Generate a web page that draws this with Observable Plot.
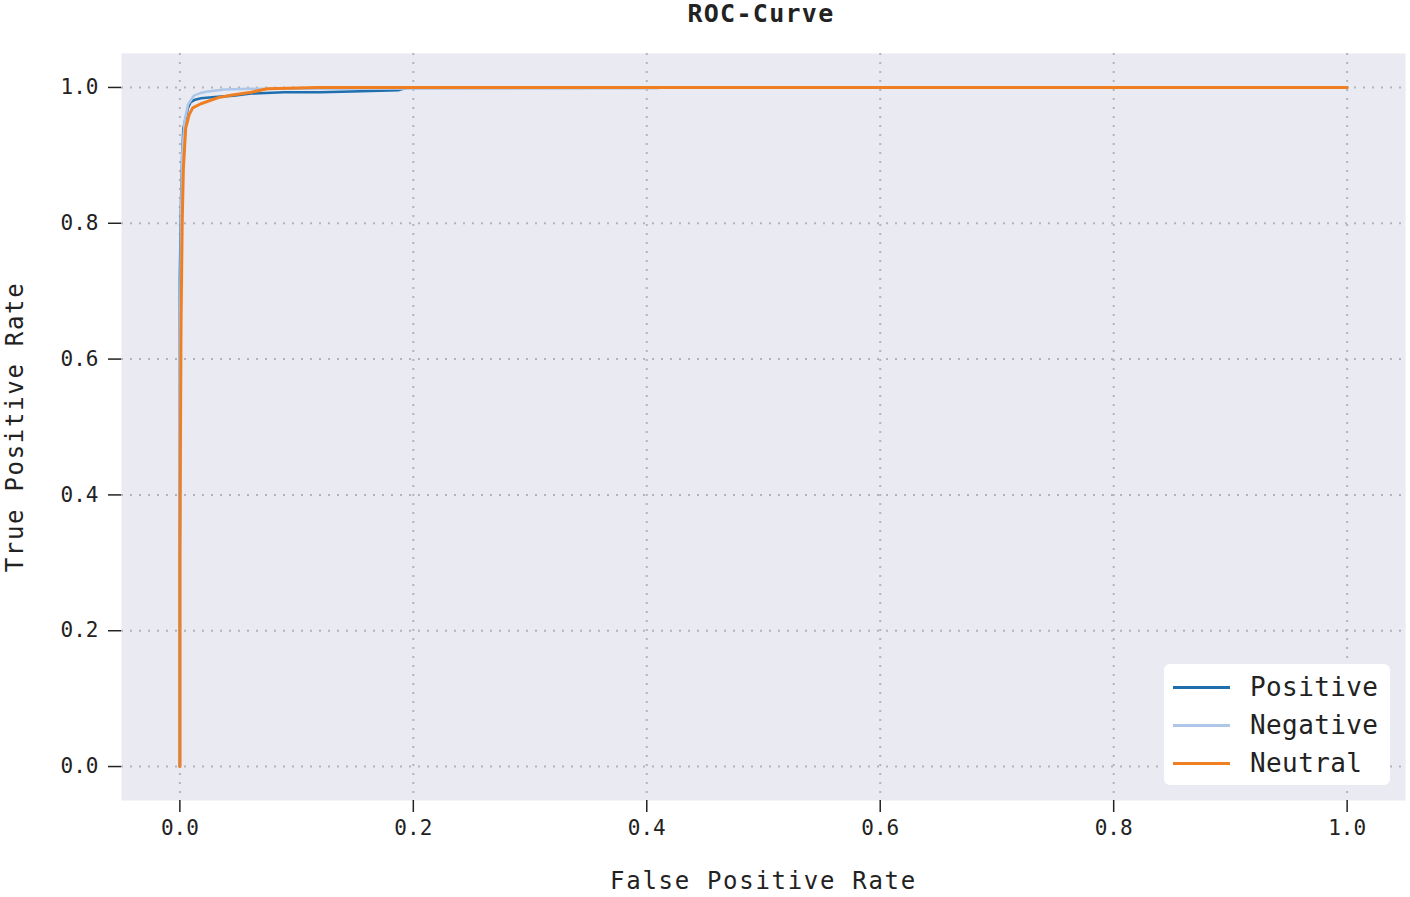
<!DOCTYPE html>
<html>
<head>
<meta charset="utf-8">
<script src="https://cdn.jsdelivr.net/npm/d3@7"></script>
<script src="https://cdn.jsdelivr.net/npm/@observablehq/plot@0.6"></script>
<style>
  html, body { margin: 0; padding: 0; background: #fff; }
  #wrap { position: relative; width: 1410px; height: 897px; font-family: "DejaVu Sans Mono", monospace; }
  #title { height: 30px; line-height: 28px; text-align: center; font-weight: bold; font-size: 25px; letter-spacing: 1.3px; color: #222; padding-left: 112px; box-sizing: border-box; }
  #legend { position: absolute; left: 1164px; top: 664px; width: 226px; height: 121px; background: #fff; border-radius: 6px; box-sizing: border-box; padding-top: 4px; }
  .row { display: flex; align-items: center; height: 38px; }
  .sw { width: 57px; height: 3px; margin-left: 9px; margin-right: 20px; }
  .lb { font-size: 26px; letter-spacing: 0.4px; color: #222; }
</style>
</head>
<body>
<div id="wrap">
  <div id="title">ROC-Curve</div>
  <div id="chart"></div>
  <div id="legend"></div>
</div>
<script>
const seriesNames = ["Positive", "Negative", "Neutral"];
const seriesColors = ["#1f6fae", "#aec7e8", "#f07f22"];

const fprPositive = [0, 0, 0.001, 0.002, 0.003, 0.005, 0.007, 0.009, 0.013, 0.018, 0.03, 0.046, 0.061, 0.089, 0.12, 0.147, 0.187, 0.195, 1];
const tprPositive = [0, 0.72, 0.83, 0.9, 0.94, 0.955, 0.97, 0.978, 0.982, 0.984, 0.986, 0.988, 0.991, 0.993, 0.993, 0.994, 0.996, 1, 1];

const fprNegative = [0, 0, 0.001, 0.002, 0.004, 0.007, 0.012, 0.018, 0.024, 0.038, 0.06, 0.1, 0.41, 0.41, 1];
const tprNegative = [0, 0.6, 0.8, 0.9, 0.95, 0.975, 0.988, 0.992, 0.994, 0.997, 0.998, 0.998, 0.999, 1, 1];

const fprNeutral = [0, 0, 0.001, 0.002, 0.003, 0.005, 0.008, 0.011, 0.018, 0.033, 0.045, 0.061, 0.075, 0.118, 1];
const tprNeutral = [0, 0.3, 0.65, 0.8, 0.88, 0.94, 0.96, 0.97, 0.976, 0.985, 0.989, 0.993, 0.998, 1, 1];

const tickValues = [0, 0.2, 0.4, 0.6, 0.8, 1.0];

const fprs = [fprPositive, fprNegative, fprNeutral];
const tprs = [tprPositive, tprNegative, tprNeutral];
const data = [];
seriesNames.forEach((name, i) => {
  fprs[i].forEach((f, j) => data.push({series: name, fpr: f, tpr: tprs[i][j]}));
});

const font = "DejaVu Sans Mono, monospace";
const plot = Plot.plot({
  width: 1410,
  height: 867,
  marginLeft: 121,
  marginRight: 5,
  marginTop: 23,
  marginBottom: 97,
  style: {fontFamily: font, color: "#222", background: "transparent"},
  x: {domain: [-0.05, 1.05]},
  y: {domain: [-0.05, 1.05]},
  color: {domain: seriesNames, range: seriesColors},
  marks: [
    Plot.frame({fill: "#eaeaf2", stroke: null}),
    Plot.gridX(tickValues, {stroke: "#b4b4b8", strokeOpacity: 1, strokeDasharray: "2,7", strokeWidth: 2}),
    Plot.gridY(tickValues, {stroke: "#b4b4b8", strokeOpacity: 1, strokeDasharray: "2,7", strokeWidth: 2}),
    Plot.axisX(tickValues, {tickSize: 12, tickPadding: 8, fontSize: 21, tickFormat: d3.format(".1f"), label: null, strokeWidth: 1.5}),
    Plot.axisY(tickValues, {tickSize: 13, tickPadding: 10, fontSize: 21, tickFormat: d3.format(".1f"), label: null, strokeWidth: 1.5}),
    Plot.line(data, {x: "fpr", y: "tpr", z: "series", stroke: "series", strokeWidth: d => d.series === "Neutral" ? 3 : 2.6, curve: "linear"}),
    Plot.text(["False Positive Rate"], {frameAnchor: "bottom", dy: 88, fontSize: 24, fill: "#222"}),
    Plot.text(["True Positive Rate"], {frameAnchor: "left", textAnchor: "middle", dx: -106, rotate: -90, fontSize: 24, fill: "#222"})
  ]
});
plot.querySelectorAll("text").forEach(t => {
  if (t.textContent.includes("Rate")) t.setAttribute("letter-spacing", "1.7");
});
document.getElementById("chart").appendChild(plot);

const legend = document.getElementById("legend");
seriesNames.forEach((name, i) => {
  const row = document.createElement("div");
  row.className = "row";
  const sw = document.createElement("div");
  sw.className = "sw";
  sw.style.background = seriesColors[i];
  const lb = document.createElement("div");
  lb.className = "lb";
  lb.textContent = name;
  row.appendChild(sw); row.appendChild(lb);
  legend.appendChild(row);
});
</script>
</body>
</html>
